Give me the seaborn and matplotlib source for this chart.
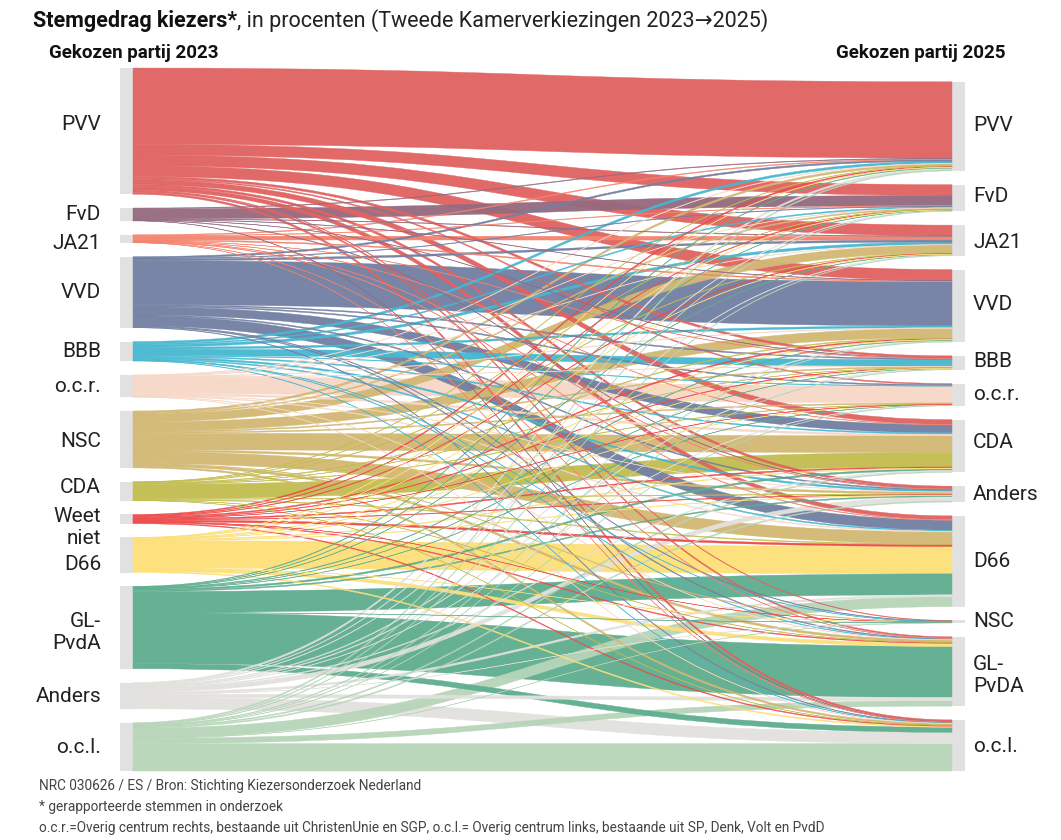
import numpy as np
import matplotlib
matplotlib.use("Agg")
import matplotlib.pyplot as plt
from matplotlib.path import Path
from matplotlib.patches import PathPatch, Rectangle
import seaborn as sns

# ---------------- data (percent of voters) ----------------
parties_2023 = ["PVV", "FvD", "JA21", "VVD", "BBB", "o.c.r.", "NSC", "CDA",
                "Weet niet", "D66", "GL-PvdA", "Anders", "o.c.l."]
parties_2025 = ["PVV", "FvD", "JA21", "VVD", "BBB", "o.c.r.", "CDA", "Anders",
                "D66", "NSC", "GL-PvdA", "o.c.l."]
labels_2023 = ["PVV", "FvD", "JA21", "VVD", "BBB", "o.c.r.", "NSC", "CDA",
               "Weet\nniet", "D66", "GL-\nPvdA", "Anders", "o.c.l."]
labels_2025 = ["PVV", "FvD", "JA21", "VVD", "BBB", "o.c.r.", "CDA", "Anders",
               "D66", "NSC", "GL-\nPvDA", "o.c.l."]

# flows from each 2023 party, in the order of parties_2025
#            PVV   FvD   JA21  VVD   BBB   ocr   CDA   And   D66   NSC   GL    ocl
from_pvv   = [14.2, 2.0,  2.0,  2.0,  0.4,  0.2,  0.9,  0.4,  0.7,  0.1,  0.25, 0.35]
from_fvd   = [0.12, 1.9,  0.1,  0.08, 0.06, 0.0,  0.0,  0.1,  0.0,  0.0,  0.0,  0.05]
from_ja21  = [0.15, 0.1,  0.7,  0.2,  0.05, 0.0,  0.06, 0.06, 0.1,  0.0,  0.04, 0.04]
from_vvd   = [0.3,  0.1,  0.35, 8.2,  0.2,  0.2,  1.5,  0.2,  1.85, 0.1,  0.15, 0.1]
from_bbb   = [0.4,  0.2,  0.45, 0.35, 1.2,  0.1,  0.2,  0.3,  0.2,  0.05, 0.1,  0.08]
from_ocr   = [0.1,  0.05, 0.08, 0.12, 0.04, 3.1,  0.35, 0.06, 0.15, 0.0,  0.06, 0.05]
from_nsc   = [0.35, 0.2,  1.5,  1.7,  0.2,  0.2,  3.1,  0.35, 2.2,  0.1,  0.4,  0.3]
from_cda   = [0.07, 0.02, 0.1,  0.15, 0.04, 0.1,  2.7,  0.1,  0.15, 0.0,  0.05, 0.05]
from_weet  = [0.2,  0.1,  0.1,  0.2,  0.1,  0.03, 0.2,  0.1,  0.35, 0.02, 0.15, 0.15]
from_d66   = [0.08, 0.04, 0.06, 0.1,  0.04, 0.05, 0.15, 0.1,  5.1,  0.02, 0.6,  0.2]
from_glpvda= [0.12, 0.05, 0.07, 0.12, 0.05, 0.06, 0.3,  0.2,  3.9,  0.02, 9.5,  0.95]
from_anders= [0.3,  0.1,  0.1,  0.15, 0.15, 0.06, 0.15, 0.8,  0.35, 0.04, 0.6,  2.1]
from_ocl   = [0.2,  0.1,  0.1,  0.12, 0.06, 0.05, 0.2,  0.2,  1.85, 0.03, 1.0,  5.1]

colors_2023 = ["#E06462", "#966A80", "#F4836E", "#7380A3", "#47B8D1", "#F7D8C7",
               "#D3B874", "#C2BE50", "#EE4A4A", "#FDE079", "#60AE90", "#E2E1DD",
               "#B7D5B9"]

flows = np.array([from_pvv, from_fvd, from_ja21, from_vvd, from_bbb, from_ocr,
                  from_nsc, from_cda, from_weet, from_d66, from_glpvda,
                  from_anders, from_ocl])

# ---------------- layout ----------------
sns.set_theme(style="white")
plt.rcParams["font.family"] = ["Roboto", "DejaVu Sans"]

W, H = 1061, 840
fig = plt.figure(figsize=(W / 100, H / 100), dpi=100)
ax = fig.add_axes([0, 0, 1, 1])
ax.set_xlim(0, W)
ax.set_ylim(H, 0)
ax.axis("off")

scale = 5.37      # px per percent
gap = 13.8
bottom = 771
xl0, xl1 = 120, 133   # left node bar
xr0, xr1 = 952, 965   # right node bar
node_col = "#E1E1E1"

left_tot = flows.sum(axis=1) * scale
right_tot = flows.sum(axis=0) * scale

def stack(heights):
    total = heights.sum() + gap * (len(heights) - 1)
    top = bottom - total
    ys = []
    for h in heights:
        ys.append(top)
        top += h + gap
    return np.array(ys)

left_y = stack(left_tot)
right_y = stack(right_tot)

for y, h in zip(left_y, left_tot):
    ax.add_patch(Rectangle((xl0, y), xl1 - xl0, h, color=node_col, lw=0, zorder=1))
for y, h in zip(right_y, right_tot):
    ax.add_patch(Rectangle((xr0, y), xr1 - xr0, h, color=node_col, lw=0, zorder=1))

# target offsets follow source order
tgt_off = right_y.copy()
tpos = {}
for i in range(flows.shape[0]):
    for j in range(flows.shape[1]):
        v = flows[i, j]
        if v <= 0:
            continue
        tpos[(i, j)] = tgt_off[j]
        tgt_off[j] += v * scale

xm = (xl1 + xr0) / 2
drawn = []
for i in range(flows.shape[0]):
    s = left_y[i]
    for j in range(flows.shape[1]):
        v = flows[i, j]
        if v <= 0:
            continue
        w = v * scale
        drawn.append((w, i, s, tpos[(i, j)]))
        s += w

for w, i, s, t in sorted(drawn, key=lambda d: -d[0]):
    verts = [(xl1, s), (xm, s), (xm, t), (xr0, t),
             (xr0, t + w), (xm, t + w), (xm, s + w), (xl1, s + w), (xl1, s)]
    codes = [Path.MOVETO, Path.CURVE4, Path.CURVE4, Path.CURVE4,
             Path.LINETO, Path.CURVE4, Path.CURVE4, Path.CURVE4, Path.CLOSEPOLY]
    ax.add_patch(PathPatch(Path(verts, codes), facecolor=colors_2023[i],
                           edgecolor=colors_2023[i], lw=0.3, alpha=0.96, zorder=2))

# ---------------- labels ----------------
lab_size = 15
left_nudge = [-7, 0, 5, 0, 0, 0, 2, -4, 8, 10, 5, 1, 1]
right_nudge = [-1, -2, 2, -1, -1, 0, -3, 0, 0, 0, 4, 1]
for k, lab in enumerate(labels_2023):
    yc = left_y[k] + left_tot[k] / 2 + left_nudge[k]
    ax.text(101, yc, lab, ha="right", va="center", fontsize=lab_size,
            color="#222222", linespacing=1.2)
for k, lab in enumerate(labels_2025):
    yc = right_y[k] + right_tot[k] / 2 + right_nudge[k]
    ax.text(973, yc, lab, ha="left", va="center", fontsize=lab_size,
            color="#222222", linespacing=1.2)

ax.text(49, 53, "Gekozen partij 2023", ha="left", va="center", fontsize=13.5,
        fontweight="bold", color="#111111")
ax.text(1005, 53, "Gekozen partij 2025", ha="right", va="center", fontsize=13.5,
        fontweight="bold", color="#111111")

# title in two parts
t1 = ax.text(33, 21, "Stemgedrag kiezers*", ha="left", va="center", fontsize=15.5,
             fontweight="bold", color="#111111")
fig.canvas.draw()
bb = t1.get_window_extent(renderer=fig.canvas.get_renderer())
ax.text(bb.x1, 21, ", in procenten (Tweede Kamerverkiezingen 2023\u21922025)",
        ha="left", va="center", fontsize=15.5, color="#222222")

foot = ["NRC 030626 / ES / Bron: Stichting Kiezersonderzoek Nederland",
        "* gerapporteerde stemmen in onderzoek",
        "o.c.r.=Overig centrum rechts, bestaande uit ChristenUnie en SGP, o.c.l.= Overig centrum links, bestaande uit SP, Denk, Volt en PvdD"]
for k, line in enumerate(foot):
    ax.text(39, 786 + k * 21, line, ha="left", va="center", fontsize=9.8,
            color="#444444")

fig.savefig("out.png", dpi=100)
